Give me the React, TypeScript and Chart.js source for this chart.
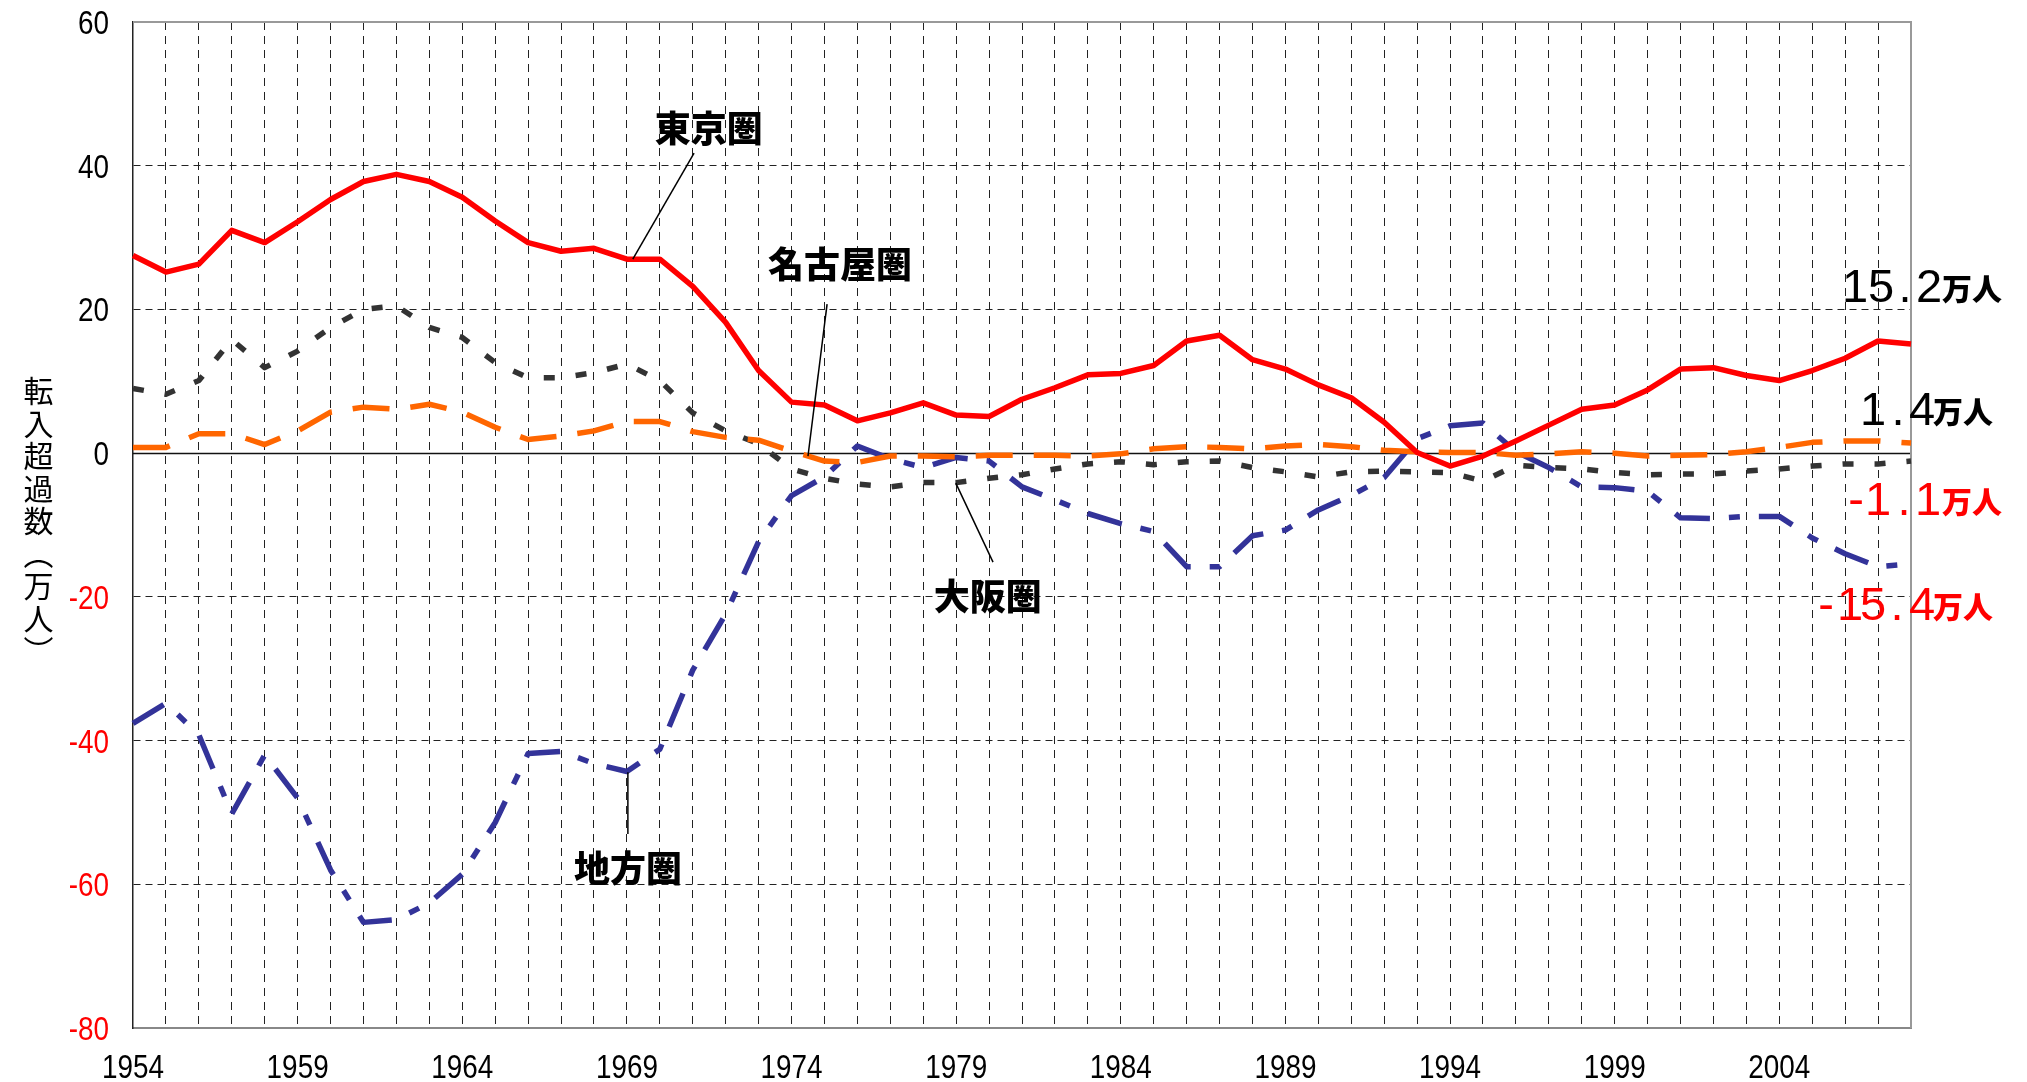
import React, { useEffect, useRef } from 'react';
import { Chart, registerables } from 'chart.js';

Chart.register(...registerables);

// ---------------- data ----------------
const years: string[] = [
  '1954','1955','1956','1957','1958','1959','1960','1961','1962','1963',
  '1964','1965','1966','1967','1968','1969','1970','1971','1972','1973',
  '1974','1975','1976','1977','1978','1979','1980','1981','1982','1983',
  '1984','1985','1986','1987','1988','1989','1990','1991','1992','1993',
  '1994','1995','1996','1997','1998','1999','2000','2001','2002','2003',
  '2004','2005','2006','2007','2008',
];
const xTickLabels = ['1954', '1959', '1964', '1969', '1974', '1979', '1984', '1989', '1994', '1999', '2004'];
const yTickValues = [-80, -60, -40, -20, 0, 20, 40, 60];

const tokyo = [
  27.5, 25.2, 26.3, 31.0, 29.3, 32.2, 35.3, 37.8, 38.8, 37.8, 35.6, 32.3, 29.3, 28.1, 28.5, 27.0, 27.0, 23.2,
  18.2, 11.5, 7.1, 6.7, 4.5, 5.6, 7.0, 5.3, 5.1, 7.5, 9.1, 10.9, 11.1, 12.2, 15.6, 16.4, 13.0, 11.7, 9.5, 7.7,
  4.3, 0.1, -1.8, -0.4, 1.7, 3.9, 6.1, 6.7, 8.8, 11.7, 11.9, 10.8, 10.1, 11.5, 13.2, 15.6, 15.2,
];
const nagoya = [
  0.8, 0.8, 2.7, 2.7, 1.2, 3.1, 5.7, 6.4, 6.1, 6.8, 5.7, 3.6, 1.9, 2.4, 3.1, 4.4, 4.4, 3.0,
  2.2, 1.8, 0.3, -1.1, -1.3, -0.4, -0.4, -0.5, -0.3, -0.3, -0.3, -0.4, -0.1, 0.6, 0.9, 0.8, 0.6, 1.0, 1.2, 0.9,
  0.4, 0.2, 0.1, 0.1, -0.3, -0.1, 0.2, 0.0, -0.4, -0.3, -0.2, 0.2, 0.8, 1.5, 1.7, 1.7, 1.4,
];
const osaka = [
  9.0, 8.2, 10.1, 15.8, 11.9, 14.2, 17.5, 20.0, 20.5, 17.5, 16.1, 12.6, 10.5, 10.5, 11.2, 12.4, 10.1, 5.6,
  3.1, 1.3, -2.2, -3.5, -4.3, -4.7, -4.1, -4.1, -3.5, -3.0, -2.2, -1.5, -1.2, -1.6, -1.2, -1.1, -2.0, -2.6, -3.3, -2.6,
  -2.5, -2.6, -2.7, -3.9, -1.7, -2.0, -2.2, -2.7, -3.0, -2.9, -2.9, -2.5, -2.2, -1.8, -1.5, -1.5, -1.1,
];
const chihou = [
  -37.6, -34.8, -39.2, -50.2, -42.0, -48.0, -58.0, -65.3, -64.9, -62.6, -58.6, -51.4, -41.8, -41.5, -43.2, -44.3, -41.2, -30.2,
  -22.4, -12.3, -5.9, -3.3, 1.0, -0.8, -2.0, -0.6, -1.1, -4.7, -6.5, -8.4, -9.8, -10.9, -15.8, -15.8, -11.5, -10.7, -7.9, -5.9,
  -3.4, 2.0, 3.8, 4.2, 0.2, -2.0, -4.7, -4.8, -5.3, -9.0, -9.1, -8.8, -8.8, -11.8, -14.0, -15.8, -15.4,
];

const seriesNames = ['東京圏', '名古屋圏', '大阪圏', '地方圏'];
const endValueTexts = ['15.2', '1.4', '-1.1', '-15.4'];
const endUnit = '万人';
const yTitleChars = ['転', '入', '超', '過', '数', '︵', '万', '人', '︶'];

// ---------------- layout / style ----------------
const W = 2027;
const H = 1082;
const FONT_NUM = '"Liberation Sans", Arial, Helvetica, sans-serif';
const FONT_CJK = '"Noto Sans CJK JP", "Noto Sans CJK SC", sans-serif';

// annotation anchors in data space (x as year offset, y as value)
const annotLayout = [
  { tx: 17.49, ty: 45.2, line: [[17.04, 41.75], [15.18, 27.0]] },
  { tx: 21.47, ty: 26.3, line: [[21.08, 20.74], [20.5, -0.42]] },
  { tx: 25.96, ty: -19.9, line: [[24.99, -4.17], [26.12, -15.17]] },
  { tx: 15.03, ty: -57.75, line: [[15.03, -44.4], [15.03, -53.0]] },
];

// right-hand end labels: pixel cell centres for each char, unit x, baseline y
const endLayout = [
  { color: '#000000', cells: [1855, 1881, 1905, 1929], unitX: 1942, base: 302 },
  { color: '#000000', cells: [1873, 1898, 1922], unitX: 1933, base: 425 },
  { color: '#FF0000', cells: [1856, 1878, 1904, 1928], unitX: 1942, base: 515 },
  { color: '#FF0000', cells: [1826, 1850, 1873, 1897, 1922], unitX: 1933, base: 620 },
];

function drawNarrow(ctx: CanvasRenderingContext2D, text: string, x: number, y: number, align: CanvasTextAlign, color: string, size: number) {
  ctx.save();
  ctx.font = `${size}px ${FONT_NUM}`;
  ctx.fillStyle = color;
  ctx.textBaseline = 'alphabetic';
  ctx.textAlign = align;
  ctx.translate(x, y);
  ctx.scale(0.82, 1);
  ctx.fillText(text, 0, 0);
  ctx.restore();
}

const overlayPlugin = {
  id: 'overlayPlugin',
  beforeDatasetsDraw(chart: any) {
    const { ctx, chartArea: a, scales } = chart;
    const y = scales.y;
    ctx.save();
    const y0 = Math.round(y.getPixelForValue(0)) + 0.5;
    ctx.strokeStyle = '#111';
    ctx.lineWidth = 1.5;
    ctx.beginPath();
    ctx.moveTo(a.left, y0);
    ctx.lineTo(a.right, y0);
    ctx.stroke();
    ctx.strokeStyle = '#999';
    ctx.lineWidth = 2;
    ctx.beginPath();
    ctx.moveTo(a.left, a.top);
    ctx.lineTo(a.right, a.top);
    ctx.lineTo(a.right, a.bottom);
    ctx.stroke();
    ctx.restore();
  },
  afterDraw(chart: any) {
    const { ctx, chartArea: a, scales } = chart;
    const xs = scales.x;
    const ys = scales.y;
    ctx.save();

    yTickValues.forEach((v) => {
      const py = ys.getPixelForValue(v);
      drawNarrow(ctx, String(v), a.left - 24, py + 12, 'right', v < 0 ? '#FF0000' : '#000000', 34);
    });
    xTickLabels.forEach((lbl) => {
      const idx = years.indexOf(lbl);
      const px = xs.getPixelForValue(idx);
      drawNarrow(ctx, lbl, px, a.bottom + 50, 'center', '#000000', 34);
    });

    ctx.font = `30px ${FONT_CJK}`;
    ctx.fillStyle = '#000';
    ctx.textAlign = 'center';
    ctx.textBaseline = 'middle';
    yTitleChars.forEach((ch, i) => {
      ctx.fillText(ch, 38.5, 391 + i * 32.5);
    });

    annotLayout.forEach((an, i) => {
      ctx.strokeStyle = '#000';
      ctx.lineWidth = 1.5;
      ctx.beginPath();
      ctx.moveTo(xs.getPixelForValue(an.line[0][0]), ys.getPixelForValue(an.line[0][1]));
      ctx.lineTo(xs.getPixelForValue(an.line[1][0]), ys.getPixelForValue(an.line[1][1]));
      ctx.stroke();
      ctx.font = `900 36px ${FONT_CJK}`;
      ctx.fillStyle = '#000';
      ctx.textAlign = 'center';
      ctx.textBaseline = 'middle';
      ctx.fillText(seriesNames[i], xs.getPixelForValue(an.tx), ys.getPixelForValue(an.ty));
    });

    endValueTexts.forEach((txt, i) => {
      const L = endLayout[i];
      ctx.fillStyle = L.color;
      ctx.font = `47px ${FONT_NUM}`;
      ctx.textAlign = 'center';
      ctx.textBaseline = 'alphabetic';
      txt.split('').forEach((ch, k) => {
        ctx.fillText(ch, L.cells[k], L.base);
      });
      ctx.font = `900 30px ${FONT_CJK}`;
      ctx.textAlign = 'left';
      ctx.fillText(endUnit, L.unitX, L.base - 2);
    });

    ctx.restore();
  },
};

export default function App() {
  const ref = useRef<HTMLCanvasElement | null>(null);
  useEffect(() => {
    document.body.style.margin = '0';
    const canvas = ref.current!;
    const common = { pointRadius: 0, tension: 0, fill: false, borderWidth: 5.5, borderCapStyle: 'butt', borderJoinStyle: 'round' };
    const chart = new Chart(canvas, {
      type: 'line',
      data: {
        labels: years,
        datasets: [
          { ...common, label: seriesNames[0], data: tokyo, borderColor: '#FF0000', borderDash: [] },
          { ...common, label: seriesNames[1], data: nagoya, borderColor: '#FF6600', borderDash: [37, 21] },
          { ...common, label: seriesNames[2], data: osaka, borderColor: '#333333', borderDash: [11, 21] },
          { ...common, label: seriesNames[3], data: chihou, borderColor: '#333399', borderDash: [36, 19, 11, 19] },
        ] as any,
      },
      options: {
        responsive: false,
        maintainAspectRatio: false,
        devicePixelRatio: 1,
        animation: false,
        layout: { padding: { left: 0, top: 22, right: 116, bottom: 0 } },
        plugins: { legend: { display: false }, tooltip: { enabled: false } },
        scales: {
          x: {
            type: 'category',
            offset: false,
            grid: {
              offset: false,
              drawTicks: false,
              lineWidth: 1,
              color: (c: any) => (c.index === 0 || c.index === years.length - 1 ? 'rgba(0,0,0,0)' : '#222'),
            },
            border: { display: true, color: '#888', width: 2, dash: [8, 6] },
            ticks: { display: false, autoSkip: false },
            afterFit: (s: any) => { s.height = 54; },
          },
          y: {
            type: 'linear',
            min: -80,
            max: 60,
            grid: {
              drawTicks: false,
              lineWidth: 1,
              color: (c: any) => (c.tick && [0, 60, -80].includes(c.tick.value) ? 'rgba(0,0,0,0)' : '#222'),
            },
            border: { display: true, color: '#222', width: 1.5, dash: [7, 5] },
            ticks: { display: false, stepSize: 20 },
            afterFit: (s: any) => { s.width = 133; },
          },
        },
      } as any,
      plugins: [overlayPlugin as any],
    });
    return () => chart.destroy();
  }, []);
  return (
    <div style={{ position: 'absolute', left: 0, top: 0, width: W, height: H, background: '#fff' }}>
      <canvas ref={ref} width={W} height={H} style={{ display: 'block', width: W, height: H }} />
    </div>
  );
}
